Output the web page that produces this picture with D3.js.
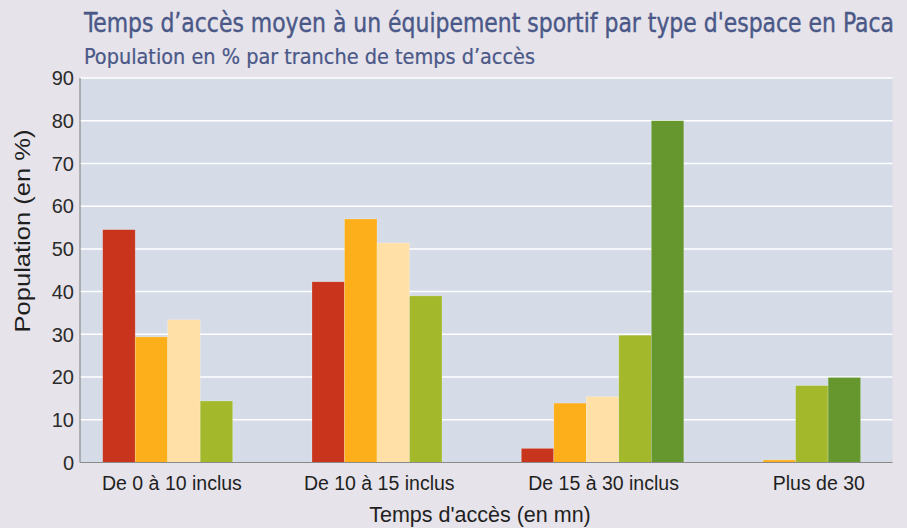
<!DOCTYPE html>
<html>
<head>
<meta charset="utf-8">
<script src="https://cdn.jsdelivr.net/npm/d3@7"></script>
<style>
  body { margin: 0; background: #e6e3ea; }
  svg { display: block; }
</style>
</head>
<body>
<svg id="chart" width="907" height="528"></svg>
<script>
// Data
const categories = ["De 0 à 10 inclus", "De 10 à 15 inclus", "De 15 à 30 inclus", "Plus de 30"];
const seriesColors = ["#c8341c", "#fdae1b", "#ffe0a6", "#a3b92b", "#66962e"];
// one array per series, null = no bar
const s1 = [54.5, 42.3, 3.3, null];
const s2 = [29.4, 57.0, 13.9, 0.6];
const s3 = [33.4, 51.4, 15.4, null];
const s4 = [14.4, 39.0, 29.8, 18.0];
const s5 = [null, null, 80.0, 19.9];
const yTicks = [0, 10, 20, 30, 40, 50, 60, 70, 80, 90];

const svg = d3.select("#chart");
const plot = { left: 80, right: 892.5, top: 78, bottom: 462.5 };
const titleFont = "DejaVu Sans Condensed, Liberation Sans Narrow, sans-serif";
const axisFont = "Liberation Sans, Arial, sans-serif";

// Titles (condensed look: smaller font stretched vertically)
svg.append("text")
    .attr("transform", "translate(84,32) scale(1,1.3)")
    .attr("font-family", titleFont)
    .attr("font-size", 20)
    .attr("fill", "#4a5888")
    .attr("stroke", "#4a5888").attr("stroke-width", 0.3)
    .attr("textLength", 810).attr("lengthAdjust", "spacingAndGlyphs")
    .text("Temps d’accès moyen à un équipement sportif par type d'espace en Paca");

svg.append("text")
    .attr("transform", "translate(84,63.5) scale(1,1.2)")
    .attr("font-family", titleFont)
    .attr("font-size", 18)
    .attr("fill", "#4a5888")
    .attr("stroke", "#4a5888").attr("stroke-width", 0.2)
    .attr("textLength", 451).attr("lengthAdjust", "spacingAndGlyphs")
    .text("Population en % par tranche de temps d’accès");

// Scales
const y = d3.scaleLinear().domain([0, 90]).range([plot.bottom, plot.top]);
const x0 = d3.scaleBand().domain(categories)
    .range([79.3, 916.5])
    .paddingInner(0.2236).paddingOuter(0.1118);
const x1 = d3.scaleBand().domain(d3.range(5)).range([0, x0.bandwidth()]);

// Plot background
svg.append("rect")
    .attr("x", plot.left).attr("y", plot.top)
    .attr("width", plot.right - plot.left).attr("height", plot.bottom - plot.top)
    .attr("fill", "#d5dce8");

// Gridlines
svg.append("g").selectAll("line")
    .data(yTicks.filter(d => d > 0))
    .enter().append("line")
    .attr("x1", plot.left).attr("x2", plot.right)
    .attr("y1", d => y(d)).attr("y2", d => y(d))
    .attr("stroke", "#ffffff").attr("stroke-width", 1.5);

// Bars: present values packed from the first present series slot
const series = [s1, s2, s3, s4, s5];
const barData = [];
categories.forEach((c, i) => {
    const present = [];
    series.forEach((s, k) => { if (s[i] !== null) present.push({ cat: c, k: k, value: s[i] }); });
    const first = present[0].k;
    present.forEach((d, j) => {
        d.slot = first + j;
        barData.push(d);
    });
});

svg.append("g").selectAll("rect")
    .data(barData)
    .enter().append("rect")
    .attr("x", d => x0(d.cat) + x1(d.slot))
    .attr("width", x1.bandwidth())
    .attr("y", d => y(d.value))
    .attr("height", d => y(0) - y(d.value))
    .attr("fill", d => seriesColors[d.k])
    .attr("stroke", "rgba(255,255,255,0.35)")
    .attr("stroke-width", 0.6);

// Axes lines
svg.append("line")
    .attr("x1", plot.left).attr("x2", plot.left)
    .attr("y1", plot.top).attr("y2", plot.bottom)
    .attr("stroke", "#8a8a8a").attr("stroke-width", 1.2);
svg.append("line")
    .attr("x1", plot.left).attr("x2", plot.right)
    .attr("y1", plot.bottom).attr("y2", plot.bottom)
    .attr("stroke", "#8a8a8a").attr("stroke-width", 1.2);

// Y tick labels
svg.append("g").selectAll("text")
    .data(yTicks)
    .enter().append("text")
    .attr("x", 74).attr("y", d => y(d))
    .attr("dy", "0.36em")
    .attr("text-anchor", "end")
    .attr("font-family", axisFont)
    .attr("font-size", 20)
    .attr("fill", "#2b2b2b")
    .text(d => d);

// X tick labels (shifted off the band centre as in the source)
const labelShift = [-12, -14, 1, 7];
svg.append("g").selectAll("text")
    .data(categories)
    .enter().append("text")
    .attr("x", (d, i) => x0(d) + x0.bandwidth() / 2 + labelShift[i])
    .attr("y", 490)
    .attr("text-anchor", "middle")
    .attr("font-family", axisFont)
    .attr("font-size", 19.5)
    .attr("fill", "#1f1f1f")
    .text(d => d);

// Axis titles
svg.append("text")
    .attr("x", 480).attr("y", 522)
    .attr("text-anchor", "middle")
    .attr("font-family", axisFont)
    .attr("font-size", 21.5)
    .attr("fill", "#1f1f1f")
    .text("Temps d'accès (en mn)");

svg.append("text")
    .attr("transform", "translate(30,231) rotate(-90)")
    .attr("text-anchor", "middle")
    .attr("font-family", axisFont)
    .attr("font-size", 21.5)
    .attr("fill", "#1f1f1f")
    .attr("textLength", 203).attr("lengthAdjust", "spacingAndGlyphs")
    .text("Population (en %)");
</script>
</body>
</html>
